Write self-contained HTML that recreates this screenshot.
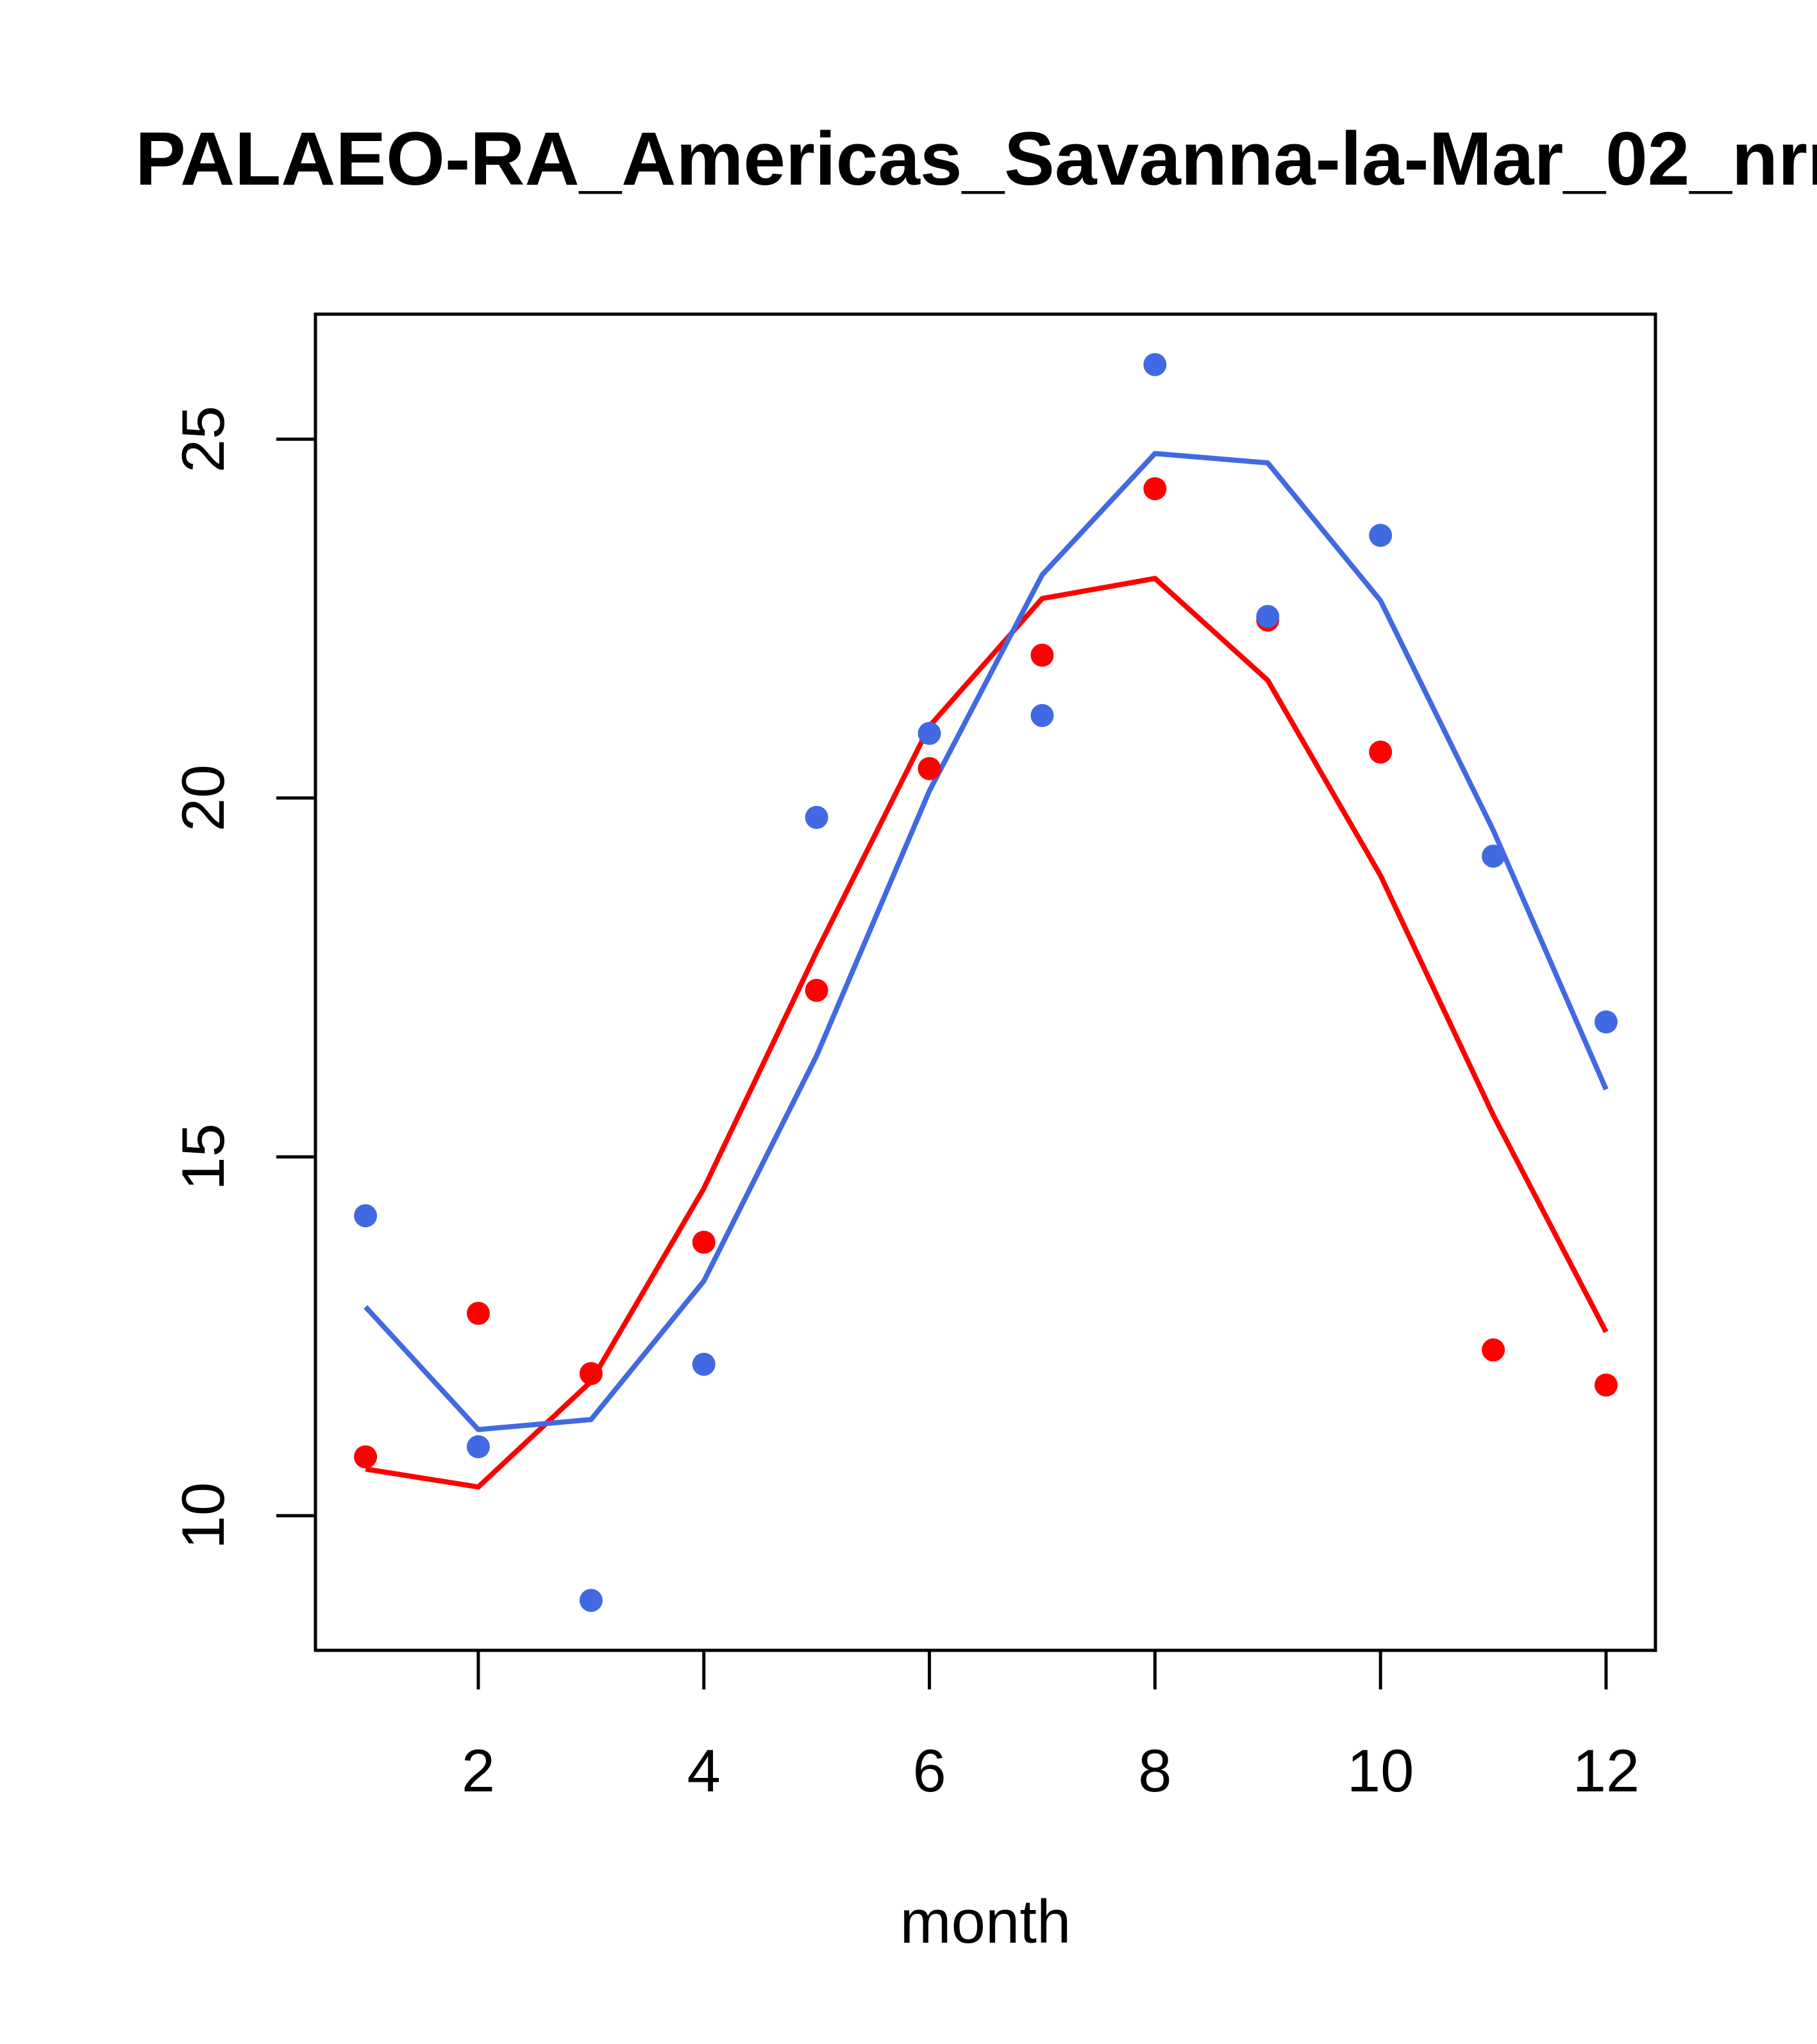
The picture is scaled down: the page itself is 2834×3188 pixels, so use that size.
<!DOCTYPE html>
<html><head><meta charset="utf-8"><style>
html,body{margin:0;padding:0;background:#fff;overflow:hidden}
svg{display:block}
text{font-family:"Liberation Sans",Arial,sans-serif}
</style></head><body>
<svg id="chart" width="2834" height="3188" viewBox="0 0 2834 3188" xmlns="http://www.w3.org/2000/svg">
<rect width="2834" height="3188" fill="#fff"/>
<text x="211" y="288" font-size="118" font-weight="bold">PALAEO-RA_Americas_Savanna-la-Mar_02_nrm</text>
<rect x="492" y="490" width="2090" height="2084" fill="none" stroke="#000" stroke-width="5"/>
<g id="xaxis"></g>
<g id="yaxis"></g>
<g id="series"></g>
<text x="1537" y="3030" font-size="96" text-anchor="middle">month</text>
</svg>
<script>
const months=[1,2,3,4,5,6,7,8,9,10,11,12];
const xTicks=[2,4,6,8,10,12];
const yTicks=[10,15,20,25];
const redPoints=[10.82,12.82,11.98,13.81,17.32,20.41,21.99,24.31,22.48,20.64,12.31,11.82];
const redLine=[10.65,10.40,11.87,14.56,17.86,21.0,22.78,23.06,21.64,18.92,15.58,12.56];
const bluePoints=[14.18,10.96,8.82,12.11,19.73,20.90,21.15,26.04,22.53,23.66,19.19,16.88];
const blueLine=[12.91,11.20,11.34,13.27,16.41,20.10,23.11,24.80,24.67,22.75,19.55,15.94];

const NS="http://www.w3.org/2000/svg";
function X(m){return 746+(m-2)*(2505-746)/10;}
function Y(v){return 2364-(v-10)*(2364-685)/15;}
function mk(tag,attrs,parent){const e=document.createElementNS(NS,tag);for(const k in attrs)e.setAttribute(k,attrs[k]);parent.appendChild(e);return e;}
const xa=document.getElementById('xaxis'),ya=document.getElementById('yaxis'),sr=document.getElementById('series');
mk('line',{x1:X(2),x2:X(12),y1:2574,y2:2574,stroke:'#000','stroke-width':5},xa);
xTicks.forEach(t=>{
  const l=mk('line',{x1:X(t),x2:X(t),y1:2574,y2:2635,stroke:'#000','stroke-width':5},xa);
  
  
  const tx=mk('text',{x:X(t),y:2794,'font-size':94,'text-anchor':'middle'},xa);
  tx.textContent=t;
  
  
});
yTicks.forEach(t=>{
  const l=mk('line',{x1:431,x2:492,y1:Y(t),y2:Y(t),stroke:'#000','stroke-width':5},ya);
  
  
  const tx=mk('text',{x:0,y:0,'font-size':94,'text-anchor':'middle',transform:`translate(349,${Y(t)}) rotate(-90)`},ya);
  tx.textContent=t;
  
  
});
function line(vals,col,name){
  const p=mk('polyline',{points:vals.map((v,i)=>X(months[i])+','+Y(v)).join(' '),fill:'none',stroke:col,'stroke-width':8,'stroke-linejoin':'round'},sr);
  
  
}
function pts(vals,col,name){
  vals.forEach((v,i)=>{
    const c=mk('circle',{cx:X(months[i]),cy:Y(v),r:18,fill:col},sr);
    
    
  });
}
line(redLine,'#ff0000','red-line');
line(blueLine,'#4169e1','blue-line');
pts(redPoints,'#ff0000','red-point');
pts(bluePoints,'#4169e1','blue-point');
</script>
</body></html>
